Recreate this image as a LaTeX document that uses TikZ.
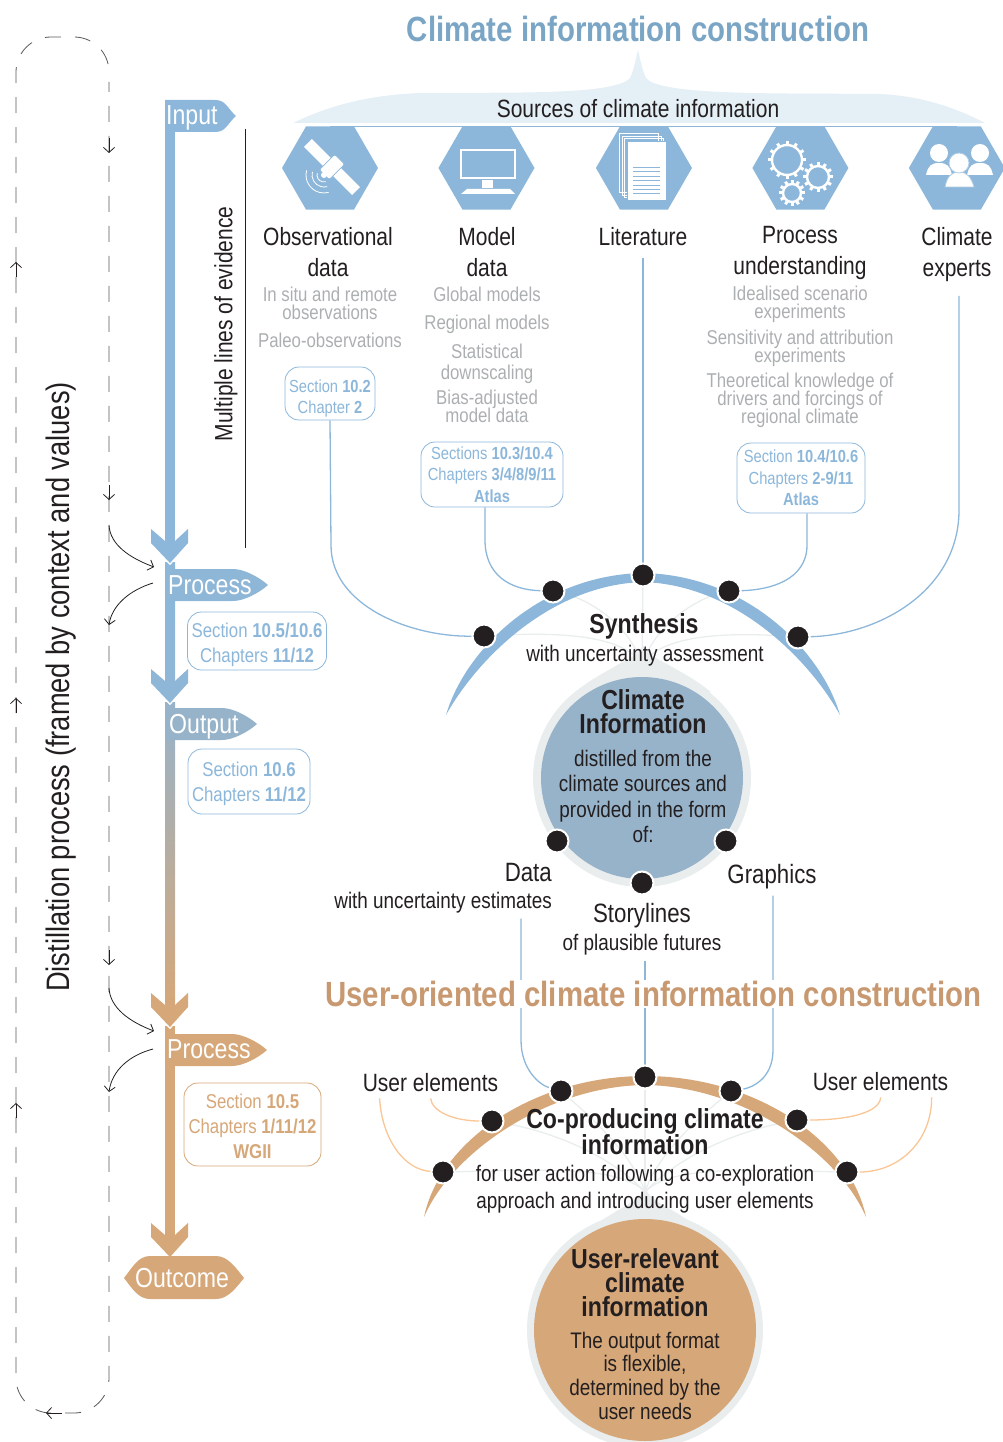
\documentclass[tikz,border=0pt]{standalone}
\usepackage{fontspec}
\setmainfont[FakeStretch=0.84]{Liberation Sans}
\usetikzlibrary{positioning, arrows.meta, shapes.geometric, calc, backgrounds}
\definecolor{skycolor}{RGB}{140, 183, 218}
\definecolor{headcolor}{RGB}{122, 165, 197}
\definecolor{palecolor}{RGB}{228, 239, 246}
\definecolor{discblue}{RGB}{151, 179, 202}
\definecolor{ringcolor}{RGB}{233, 237, 238}
\definecolor{tancolor}{RGB}{214, 167, 120}
\definecolor{headtan}{RGB}{200, 153, 112}
\definecolor{peachcolor}{RGB}{249, 198, 150}
\definecolor{graytext}{RGB}{172, 175, 177}
\definecolor{inkcolor}{RGB}{35, 31, 32}
\newcommand{\fsz}[2]{\fontsize{#1}{#2}\selectfont\lineskiplimit=-40pt\relax}
\newcommand{\liftline}[1]{\rule{0pt}{#1}}
\newcommand{\tagsign}[4]{\fill[#4] (165,#1) -- (#2,#1) .. controls (#2+11,#1) and (#3-9,#1+8) .. (#3,#1+16)
    .. controls (#3-9,#1+24) and (#2+11,#1+32) .. (#2,#1+32) -- (165,#1+32) -- cycle;}
\newcommand{\chevronhead}[2]{\draw[white, line width=1.6pt] (151,#1-19) -- (170,#1+1) -- (188,#1-19);
    \fill[#2] (151,#1-34) -- (165,#1-22) -- (175,#1-22) -- (188,#1-34) -- (188,#1-20) -- (170,#1) -- (151,#1-20) -- cycle;}
\newcommand{\gearicon}[3]{\draw[white, line width=2.4pt] (#1,#2) circle (#3 pt);
    \foreach \a in {0,30,...,330} \draw[white, line width=3pt] ({#1+#3*cos(\a)},{#2+#3*sin(\a)}) -- ({#1+#3*cos(\a)+4*cos(\a)},{#2+#3*sin(\a)+4*sin(\a)});}

\begin{document}
\begin{tikzpicture}[
    x=1pt, y=-1pt,
    hexbox/.style={regular polygon, regular polygon sides=6, fill=skycolor, minimum size=96pt, inner sep=0pt},
    srclabel/.style={align=center, inner sep=0pt, text=inkcolor, font=\fsz{25}{31}},
    formlabel/.style={srclabel, font=\fsz{26.5}{31}},
    graynote/.style={align=center, inner sep=0pt, text=graytext, font=\fsz{20}{18}},
    bluesec/.style={rectangle, draw=skycolor, fill=white, rounded corners=14pt, align=center, inner sep=0pt, line width=0.8pt, text=skycolor, font=\fsz{17.5}{21.5}},
    bigsec/.style={bluesec, font=\fsz{20}{25}},
    tansec/.style={bigsec, draw=tancolor, text=tancolor},
    tagtext/.style={anchor=west, inner sep=0pt, text=white, font=\fsz{27.5}{29}},
    blackdot/.style={circle, fill=inkcolor, draw=white, line width=2pt, minimum size=23pt, inner sep=0pt},
    bodytext/.style={align=center, inner sep=0pt, text=inkcolor, font=\fsz{22.5}{25.5}},
    boldtext/.style={align=center, inner sep=0pt, text=inkcolor, font=\fsz{27.5}{24}\bfseries},
    sidetext/.style={inner sep=0pt, text=inkcolor},
    bluelink/.style={draw=skycolor, line width=1.3pt},
    peachlink/.style={draw=peachcolor, line width=1.3pt},
    fanline/.style={draw=ringcolor, line width=1.3pt},
    frameline/.style={draw=inkcolor!75, line width=0.8pt},
    barb/.style={-{Straight Barb[length=5pt, width=11pt]}, draw=inkcolor, line width=0.8pt},
]
\useasboundingbox (0,0) rectangle (1003,1442);

% ============ Titles ============
\fill[palecolor] (293,123) .. controls (330,105) and (370,95) .. (420,93) .. controls (500,92) and (615,96) .. (630,78)
    .. controls (634,70) and (636,58) .. (638,50) .. controls (640,58) and (642,70) .. (646,78)
    .. controls (660,96) and (780,93) .. (880,94) .. controls (925,96) and (960,110) .. (985,123) -- cycle;
\node[inner sep=0pt, text=headcolor, font=\fsz{35}{40}\bfseries] (maintitle) at (638,29) {Climate information construction};
\node[sidetext, font=\fsz{25}{27}] (sources) at (638,108.5) {Sources of climate information};
\node[inner sep=1pt, fill=white, text=headtan, font=\fsz{35}{40}\bfseries] (usertitle) at (653.5,994) {User-oriented climate information construction};

% ============ Dashed frame (left) ============
\draw[frameline, dash pattern=on 16pt off 14pt, dash phase=16pt, rounded corners=35pt] (109,78) -- (109,37) -- (16,37) -- (16,1413) -- (109,1413) -- (109,82);
\foreach \ypos in {153,500,965} \draw[barb] (109,\ypos-15) -- (109,\ypos);
\foreach \ypos in {262,698,1103} \draw[barb] (16,\ypos+15) -- (16,\ypos);
\draw[barb] (62,1413) -- (46,1413);
\node[sidetext, rotate=90, font=\fsz{32.5}{34}] (distill) at (61.5,687) {Distillation process (framed by context and values)};

% ============ Flow arrow (left) ============
\fill[skycolor] (165,100) rectangle (175,545);
\tagsign{100}{215}{236}{skycolor}
\node[tagtext] (input) at (166,118) {Input};
\shade[top color=skycolor, bottom color=skycolor!75!discblue] (165,562) rectangle (175,685);
\chevronhead{563}{skycolor}
\tagsign{569}{233}{268}{skycolor!85!discblue}
\node[tagtext] (process) at (168,585) {Process};
\shade[top color=discblue, bottom color=tancolor] (165,702) rectangle (175,1010);
\chevronhead{703}{skycolor!80!discblue}
\tagsign{708}{222}{257}{discblue}
\node[tagtext] (output) at (169,727) {Output};
\fill[tancolor] (165,1026) rectangle (175,1235);
\chevronhead{1027}{tancolor}
\tagsign{1034}{232}{267}{tancolor}
\node[tagtext] (processtwo) at (167,1049) {Process};
\chevronhead{1257}{tancolor}
\fill[tancolor] (124,1278) .. controls (132,1268) and (138,1256) .. (150,1256) -- (216,1256) .. controls (228,1256) and (236,1268) .. (244,1278)
    .. controls (236,1288) and (228,1299) .. (216,1299) -- (150,1299) .. controls (138,1299) and (132,1288) .. (124,1278) -- cycle;
\node[inner sep=0pt, text=white, font=\fsz{27.5}{29}] (outcome) at (182,1278) {Outcome};

\node[bigsec, minimum width=139pt, minimum height=58pt] (secproc) at (257,641) {\liftline{22.5pt}Section \textbf{10.5/10.6}\\Chapters \textbf{11/12}};
\node[bigsec, minimum width=122pt, minimum height=65pt] (secout) at (249,781.5) {\liftline{18.5pt}Section \textbf{10.6}\\Chapters \textbf{11/12}};
\node[tansec, minimum width=137pt, minimum height=83pt] (secuser) at (252.5,1124.5) {\liftline{17.5pt}Section \textbf{10.5}\\Chapters \textbf{1/11/12}\\\textbf{WGII}};

\node[sidetext, rotate=90, font=\fsz{25}{27}] (evidence) at (226,324) {Multiple lines of evidence};
\coordinate (evidtop) at (245,129);
\coordinate (evidbot) at (245,548);
\draw[draw=inkcolor, line width=0.8pt] (evidtop) -- (evidbot);

% ============ Source hexagons ============
\node[hexbox] (hexobs) at (330,168) {};
\node[hexbox, right=60pt of hexobs] (hexmod) {};
\node[hexbox, right=61pt of hexmod] (hexlit) {};
\node[hexbox, right=60pt of hexlit] (hexpro) {};
\node[hexbox, right=60pt of hexpro] (hexexp) {};

% satellite
\begin{scope}[shift={(332,167)}, rotate=-45]
    \fill[white] (-34,-5.5) rectangle (34,5.5);
    \filldraw[fill=white, draw=skycolor, line width=0.8pt, rounded corners=2pt] (-7,-11) rectangle (7,11);
\end{scope}
\fill[white] (324,175) circle (3pt);
\foreach \r in {7,12,18}
    \draw[white, line width=0.8pt] ({324+\r*cos(165)},{175-\r*sin(165)}) arc[start angle=165, end angle=285, radius=\r pt];

% monitor
\draw[white, line width=2pt] (461,150) rectangle (515,178);
\fill[white] (482,180) rectangle (493,188);
\fill[white] (467,189) -- (510,189) -- (515,194) -- (461,194) -- cycle;

% document
\foreach \d in {8,5,2.5}
    \draw[white, line width=0.7pt] ({627-\d},{141-\d}) rectangle ({666-\d},{200-\d});
\filldraw[fill=white, draw=skycolor, line width=0.7pt] (627,141) rectangle (666,200);
\foreach \ypos in {167,171.5,176,180.5,185,189,193}
    \draw[skycolor, line width=0.7pt] (633,\ypos) -- (660,\ypos);

% gears
\gearicon{787}{160}{15}
\gearicon{818}{177}{11}
\gearicon{792}{193}{9}

% people
\fill[white] (939,153) circle (9pt) (980,153) circle (9pt);
\fill[white] (926,175) .. controls (928,166) and (931,163) .. (939,163) .. controls (947,163) and (950,166) .. (952,175) -- cycle;
\fill[white] (967,175) .. controls (969,166) and (972,163) .. (980,163) .. controls (988,163) and (991,166) .. (993,175) -- cycle;
\filldraw[fill=white, draw=skycolor!70!white, line width=0.8pt] (945,187) .. controls (947,177) and (951,172) .. (959,172) .. controls (967,172) and (971,177) .. (974,187) -- cycle;
\filldraw[fill=white, draw=skycolor!70!white, line width=0.8pt] (959,163) circle (10pt);

% ============ Source labels ============
\node[srclabel] (labobs) at (328,252.5) {Observational\\data};
\node[srclabel] (labmod) at (487,252.5) {Model\\data};
\node[srclabel] (lablit) at (643,237) {Literature};
\node[srclabel] (labpro) at (800,252.5) {Process\\understanding};
\node[srclabel] (labexp) at (957,254.5) {Climate\\experts};

\node[graynote] (noteobs) at (330,317.5) {In situ and remote\\observations\\[10pt]Paleo-observations};
\node[graynote] (notemod) at (487,354.5) {Global models\\[10pt]Regional models\\[11pt]Statistical\\[3pt]downscaling\\[7pt]Bias-adjusted\\model data};
\node[graynote] (notepro) at (800,356.5) {Idealised scenario\\experiments\\[8pt]Sensitivity and attribution\\experiments\\[7pt]Theoretical knowledge of\\drivers and forcings of\\regional climate};

\node[bluesec, minimum width=90pt, minimum height=53pt] (secobs) at (330,393.5) {\liftline{22.5pt}Section \textbf{10.2}\\Chapter \textbf{2}};
\node[bluesec, minimum width=142pt, minimum height=65pt] (secmod) at (492,474.5) {Sections \textbf{10.3/10.4}\\Chapters \textbf{3/4/8/9/11}\\\textbf{Atlas}};
\node[bluesec, minimum width=128pt, minimum height=70pt] (secpro) at (801,478) {Section \textbf{10.4/10.6}\\Chapters \textbf{2-9/11}\\\textbf{Atlas}};

% ============ Synthesis ============
\fill[ringcolor] (642,778) circle (109pt);
\fill[ringcolor] (643,645) .. controls (640,655) and (625,660) .. (612,668) .. controls (600,675) and (590,680) .. (575,692)
    -- (711,692) .. controls (696,680) and (686,675) .. (674,668) .. controls (661,660) and (646,655) .. (643,645) -- cycle;
\fill[skycolor] (446,715) .. controls (465,650) and (540,575) .. (643,573) .. controls (746,575) and (821,650) .. (840,715)
    .. controls (810,661) and (737,585) .. (643,582) .. controls (549,585) and (476,661) .. (446,715) -- cycle;
\node[circle, fill=discblue, minimum size=202pt, inner sep=0pt] (infodisc) at (642,778) {};

\node[blackdot] (dotobs) at (484,636) {};
\node[blackdot] (dotmod) at (553,591) {};
\node[blackdot] (dotlit) at (643,575) {};
\node[blackdot] (dotpro) at (729,591) {};
\node[blackdot] (dotexp) at (798,637) {};
\coordinate (fantop) at (642,665);

\node[boldtext] (synth) at (644,626) {Synthesis};
\node[bodytext] (synthsub) at (645,656) {with uncertainty assessment};
\node[boldtext] (infohead) at (643,711.5) {Climate\\Information};
\node[bodytext] (infobody) at (643,796.5) {distilled from the\\climate sources and\\provided in the form\\of:};

\node[blackdot] (dotdat) at (557,841) {};
\node[blackdot] (dotgra) at (726,841) {};
\node[blackdot] (dotsto) at (642,883) {};

\node[formlabel, anchor=east] (labdat) at (552,873) {Data};
\node[bodytext, anchor=east] (labdatsub) at (552,903) {with uncertainty estimates};
\node[formlabel] (labgra) at (772,877) {Graphics};
\node[formlabel] (labsto) at (642,916) {Storylines};
\node[bodytext] (labstosub) at (642,945) {of plausible futures};

% ============ Co-production ============
\fill[ringcolor] (645,1330) circle (118pt);
\fill[ringcolor] (645,1185) .. controls (643,1200) and (625,1205) .. (610,1215) .. controls (590,1228) and (575,1235) .. (555,1255)
    -- (735,1255) .. controls (715,1235) and (700,1228) .. (680,1215) .. controls (665,1205) and (647,1200) .. (645,1185) -- cycle;
\fill[tancolor] (424,1217) .. controls (440,1140) and (535,1076) .. (645,1076) .. controls (755,1076) and (850,1140) .. (866,1217)
    .. controls (838,1152) and (742,1086) .. (645,1085) .. controls (548,1086) and (452,1152) .. (424,1217) -- cycle;
\node[circle, fill=tancolor, minimum size=222pt, inner sep=0pt] (userdisc) at (645,1330) {};

\node[blackdot] (dotuda) at (561,1091) {};
\node[blackdot] (dotust) at (645,1077) {};
\node[blackdot] (dotugr) at (731,1091) {};
\node[blackdot] (dotula) at (492,1121) {};
\node[blackdot] (dotulb) at (443,1172) {};
\node[blackdot] (dotura) at (797,1120) {};
\node[blackdot] (doturb) at (847,1172) {};
\coordinate (fanlow) at (645,1192);

\node[srclabel] (userleft) at (430.5,1083) {User elements};
\node[srclabel] (userright) at (880.5,1082) {User elements};
\node[boldtext, font=\fsz{27.5}{26}\bfseries] (coprod) at (645,1132) {Co-producing climate\\information};
\node[bodytext, font=\fsz{22.5}{27}] (coprodsub) at (645,1189.5) {for user action following a co-exploration\\approach and introducing user elements};
\node[boldtext] (userhead) at (645,1283) {User-relevant\\climate\\information};
\node[bodytext, font=\fsz{22.5}{23.7}] (userbody) at (645,1375.5) {The output format\\is flexible,\\determined by the\\user needs};

% ============ Connectors ============
\begin{pgfonlayer}{background}
    % sources into synthesis
    \draw[bluelink] (hexobs.north) -- (hexexp.north);
    \draw[bluelink] (secobs.south) -- ++(1,125) .. controls +(0,60) and (410,637) .. (dotobs);
    \draw[bluelink] (485,0 |- secmod.south) -- (485,540) .. controls (485,575) and (510,590) .. (dotmod);
    \draw[bluelink] ($(lablit.south)+(0,12)$) -- (dotlit);
    \draw[bluelink] (807,0 |- secpro.south) -- (807,545) .. controls (807,580) and (770,590) .. (dotpro);
    \draw[bluelink] ($(labexp.south)+(2,14)$) -- (959,510) .. controls (959,590) and (880,635) .. (dotexp);

    % fan below synthesis
    \draw[fanline] (dotobs) .. controls (560,632) and (625,635) .. (fantop);
    \draw[fanline] (dotmod) .. controls (590,600) and (630,625) .. (fantop);
    \draw[fanline] (dotlit) -- (fantop);
    \draw[fanline] (dotpro) .. controls (695,600) and (655,625) .. (fantop);
    \draw[fanline] (dotexp) .. controls (725,632) and (660,635) .. (fantop);

    % forms into co-production
    \draw[bluelink] ($(labdatsub.south east)+(-31,5)$) -- (521,1040) .. controls (521,1070) and (540,1085) .. (dotuda);
    \draw[bluelink] ($(labstosub.south)+(3,5)$) -- (dotust);
    \draw[bluelink] ($(labgra.south)+(1,6)$) -- (773,1050) .. controls (773,1080) and (750,1088) .. (dotugr);

    % user elements
    \draw[peachlink] ($(userleft.south west)+(17,6)$) .. controls (382,1140) and (405,1170) .. (dotulb);
    \draw[peachlink] ($(userleft.south west)+(68,6)$) .. controls (432,1112) and (455,1121) .. (dotula);
    \draw[peachlink] ($(userright.south west)+(68,6)$) .. controls (880,1112) and (850,1120) .. (dotura);
    \draw[peachlink] ($(userright.south west)+(119,6)$) .. controls (932,1140) and (900,1172) .. (doturb);

    % fan below co-production
    \draw[fanline] (dotulb) .. controls (540,1170) and (620,1165) .. (fanlow);
    \draw[fanline] (dotula) .. controls (570,1135) and (620,1165) .. (fanlow);
    \draw[fanline] (dotuda) .. controls (600,1125) and (635,1160) .. (fanlow);
    \draw[fanline] (dotust) -- (fanlow);
    \draw[fanline] (dotugr) .. controls (690,1125) and (655,1160) .. (fanlow);
    \draw[fanline] (dotura) .. controls (720,1135) and (670,1165) .. (fanlow);
    \draw[fanline] (doturb) .. controls (750,1170) and (670,1165) .. (fanlow);
\end{pgfonlayer}

% ============ Feedback arrows ============
\coordinate (outa) at (109,525);
\coordinate (ina) at (154,567);
\coordinate (backa) at (153,583);
\coordinate (retina) at (109,625);
\coordinate (outb) at (109,988);
\coordinate (inb) at (154,1031);
\coordinate (backb) at (153,1049);
\coordinate (retinb) at (109,1092);
\draw[barb] (outa) .. controls (110,545) and (130,558) .. (ina);
\draw[barb] (backa) .. controls (130,590) and (112,605) .. (retina);
\draw[barb] (outb) .. controls (110,1008) and (130,1022) .. (inb);
\draw[barb] (backb) .. controls (130,1055) and (112,1070) .. (retinb);

\end{tikzpicture}
\end{document}
